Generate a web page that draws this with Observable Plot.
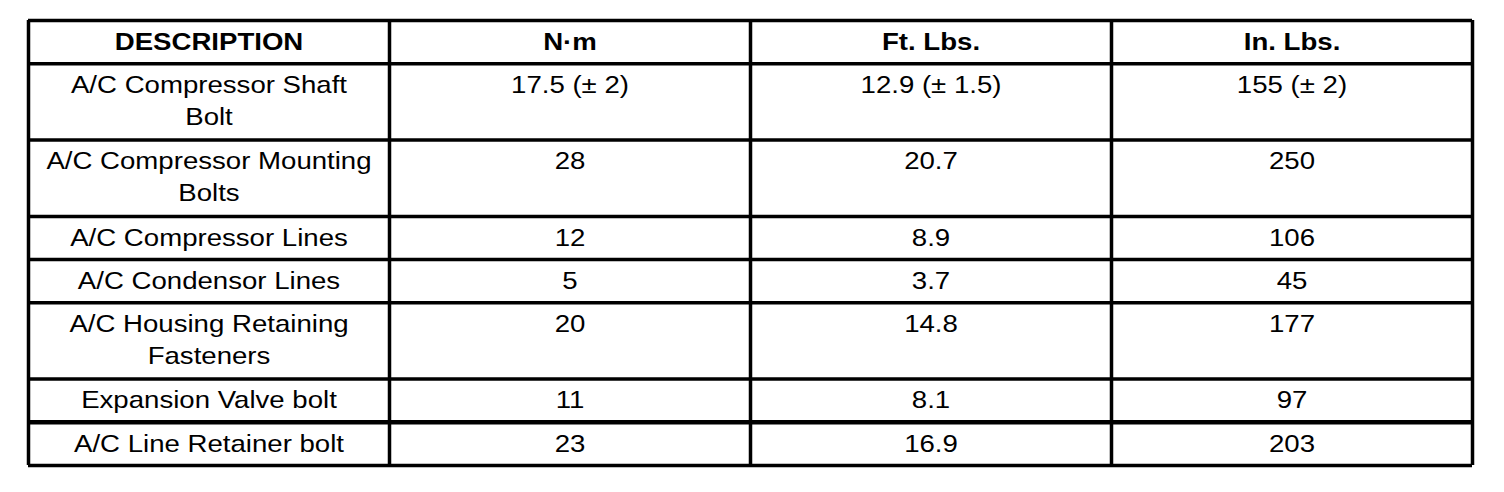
<!DOCTYPE html>
<html>
<head>
<meta charset="utf-8">
<script src="https://cdn.jsdelivr.net/npm/d3@7"></script>
<script src="https://cdn.jsdelivr.net/npm/@observablehq/plot@0.6"></script>
<style>
  html, body { margin: 0; padding: 0; background: #fff; }
  svg { display: block; }
</style>
</head>
<body>
<div id="chart"></div>
<script>
const headers = ["DESCRIPTION", "N·m", "Ft. Lbs.", "In. Lbs."];
const descriptions = [
  "A/C Compressor Shaft\nBolt",
  "A/C Compressor Mounting\nBolts",
  "A/C Compressor Lines",
  "A/C Condensor Lines",
  "A/C Housing Retaining\nFasteners",
  "Expansion Valve bolt",
  "A/C Line Retainer bolt"
];
const newtonMeters = ["17.5 (± 2)", "28", "12", "5", "20", "11", "23"];
const footPounds = ["12.9 (± 1.5)", "20.7", "8.9", "3.7", "14.8", "8.1", "16.9"];
const inchPounds = ["155 (± 2)", "250", "106", "45", "177", "97", "203"];

// row layout derived from number of text lines
const lineUnit = 33, pad = 10;
const rowLines = [1, ...descriptions.map(d => d.split("\n").length)];
const rowHeights = rowLines.map(n => pad + lineUnit * n);
const rowTops = [0];
rowHeights.forEach((h, i) => rowTops.push(rowTops[i] + h));
const total = rowTops[rowTops.length - 1];

const cells = [];
headers.forEach((h, c) => cells.push({col: c, row: 0, text: h, header: true}));
descriptions.forEach((d, r) => {
  [d, newtonMeters[r], footPounds[r], inchPounds[r]].forEach((t, c) =>
    cells.push({col: c, row: r + 1, text: t, header: false}));
});

const textOffset = 6.5;
const common = {
  x: d => d.col + 0.5,
  y: d => rowTops[d.row] + textOffset,
  text: "text",
  lineAnchor: "top",
  lineHeight: 1.333,
  fontSize: 24,
  fill: "black",
  textAnchor: "middle"
};

const hLines = rowTops.map((y, i) => ({y, w: i === rowTops.length - 2 ? 4.5 : 3.5}));
const vLines = d3.range(headers.length + 1);

const plot = Plot.plot({
  width: 1504,
  height: 492,
  margin: 0,
  style: {fontFamily: "'Liberation Sans', Arial, sans-serif", background: "#fff"},
  x: {domain: [0, headers.length], range: [28, 1472], axis: null},
  y: {domain: [0, total], range: [20, 465], axis: null},
  marks: [
    Plot.ruleY(hLines, {y: "y", x1: 0, x2: headers.length, stroke: "black", strokeWidth: "w"}),
    Plot.ruleX(vLines, {x: d => d, y1: 0, y2: total, stroke: "black", strokeWidth: 3.5}),
    Plot.text(cells.filter(d => d.header), {...common, fontWeight: "bold"}),
    Plot.text(cells.filter(d => !d.header), {...common})
  ]
});

// horizontal stretch of the typeface, as in the reference
plot.querySelectorAll('g[aria-label="text"] text').forEach(t => {
  const tr = t.getAttribute("transform") || "";
  t.setAttribute("transform", tr + " scale(1.15,1)");
});

document.getElementById("chart").appendChild(plot);
</script>
</body>
</html>
